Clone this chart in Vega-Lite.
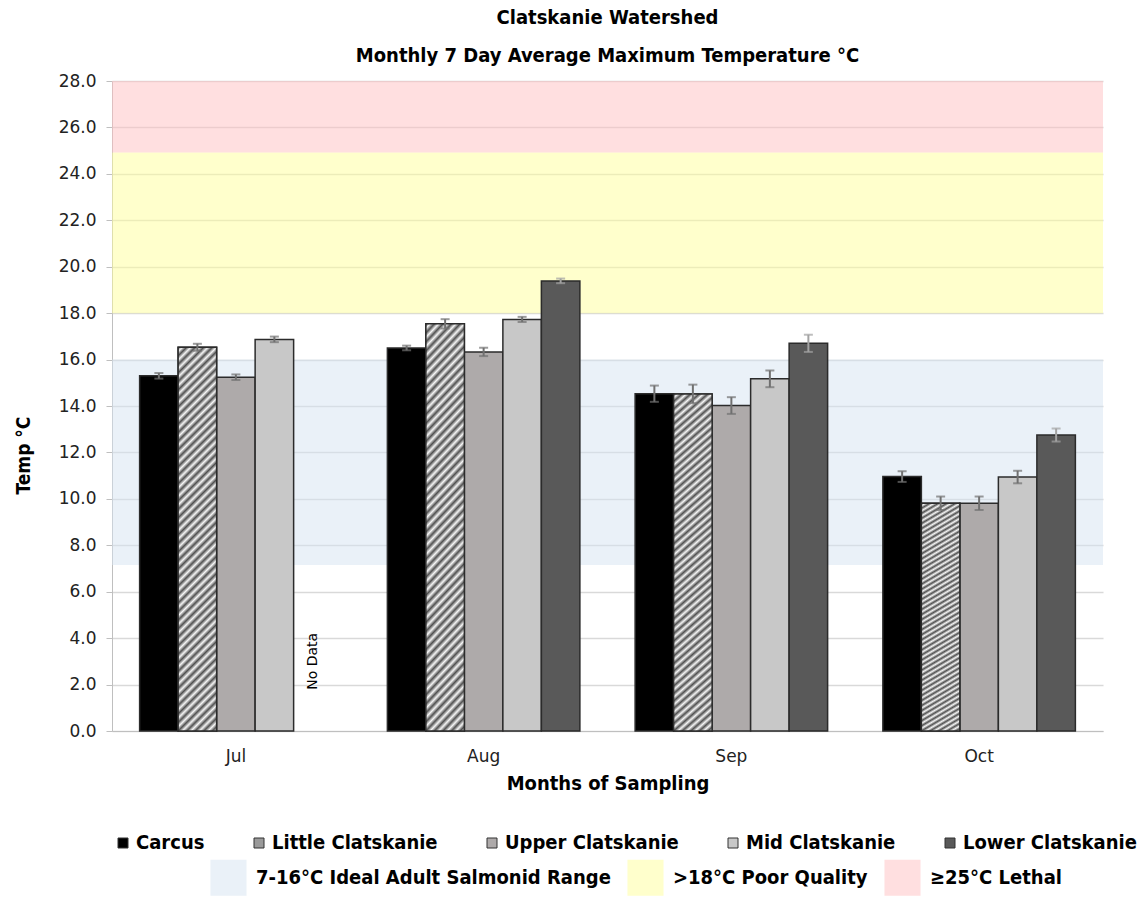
{
  "$schema": "https://vega.github.io/schema/vega-lite/v6.json",
  "width": 991,
  "height": 650,
  "autosize": {"type": "none"},
  "padding": {"left": 112, "top": 81, "right": 45, "bottom": 167},
  "background": "white",
  "title": {
    "text": "Clatskanie Watershed",
    "subtitle": "Monthly 7 Day Average Maximum Temperature °C",
    "frame": "group",
    "anchor": "middle",
    "font": "DejaVu Sans Condensed",
    "fontWeight": "bold",
    "fontSize": 20,
    "color": "black",
    "subtitleFont": "DejaVu Sans Condensed",
    "subtitleFontWeight": "bold",
    "subtitleFontSize": 20,
    "subtitleColor": "black",
    "subtitlePadding": 18,
    "offset": 6
  },
  "config": {"view": {"stroke": null}, "font": "DejaVu Sans"},
  "datasets": {
    "temps": [
      {"month": "Jul", "series": "Carcus", "value": 15.30, "lo": 15.18, "hi": 15.42},
      {"month": "Jul", "series": "Little Clatskanie", "value": 16.53, "lo": 16.38, "hi": 16.68},
      {"month": "Jul", "series": "Upper Clatskanie", "value": 15.24, "lo": 15.12, "hi": 15.36},
      {"month": "Jul", "series": "Mid Clatskanie", "value": 16.87, "lo": 16.75, "hi": 16.99},
      {"month": "Aug", "series": "Carcus", "value": 16.50, "lo": 16.40, "hi": 16.60},
      {"month": "Aug", "series": "Little Clatskanie", "value": 17.54, "lo": 17.34, "hi": 17.74},
      {"month": "Aug", "series": "Upper Clatskanie", "value": 16.33, "lo": 16.15, "hi": 16.51},
      {"month": "Aug", "series": "Mid Clatskanie", "value": 17.73, "lo": 17.62, "hi": 17.84},
      {"month": "Aug", "series": "Lower Clatskanie", "value": 19.39, "lo": 19.29, "hi": 19.49},
      {"month": "Sep", "series": "Carcus", "value": 14.53, "lo": 14.18, "hi": 14.88},
      {"month": "Sep", "series": "Little Clatskanie", "value": 14.52, "lo": 14.12, "hi": 14.92},
      {"month": "Sep", "series": "Upper Clatskanie", "value": 14.02, "lo": 13.66, "hi": 14.38},
      {"month": "Sep", "series": "Mid Clatskanie", "value": 15.17, "lo": 14.81, "hi": 15.53},
      {"month": "Sep", "series": "Lower Clatskanie", "value": 16.70, "lo": 16.33, "hi": 17.07},
      {"month": "Oct", "series": "Carcus", "value": 10.96, "lo": 10.73, "hi": 11.19},
      {"month": "Oct", "series": "Little Clatskanie", "value": 9.81, "lo": 9.52, "hi": 10.10},
      {"month": "Oct", "series": "Upper Clatskanie", "value": 9.81, "lo": 9.52, "hi": 10.10},
      {"month": "Oct", "series": "Mid Clatskanie", "value": 10.94, "lo": 10.67, "hi": 11.21},
      {"month": "Oct", "series": "Lower Clatskanie", "value": 12.75, "lo": 12.47, "hi": 13.03}
    ],
    "bands": [
      {"band": "7-16°C Ideal Adult Salmonid Range", "lo": 7.15, "hi": 16.0},
      {"band": ">18°C Poor Quality", "lo": 18.0, "hi": 24.92},
      {"band": "≥25°C Lethal", "lo": 24.92, "hi": 28.0}
    ],
    "notes": [
      {"month": "Jul", "series": "Lower Clatskanie", "note": "No Data"}
    ]
  },
  "layer": [
    {
      "data": {"name": "bands"},
      "mark": {"type": "rect", "opacity": 0.5},
      "encoding": {
        "y": {"field": "lo", "type": "quantitative"},
        "y2": {"field": "hi"},
        "fill": {
          "field": "band",
          "type": "nominal",
          "scale": {
            "domain": ["7-16°C Ideal Adult Salmonid Range", ">18°C Poor Quality", "≥25°C Lethal"],
            "range": ["#d5e3f1", "#ffff99", "#ffbfc1"]
          },
          "legend": {
            "orient": "none",
            "legendX": 98,
            "legendY": 778,
            "direction": "horizontal",
            "columns": 3,
            "title": null,
            "padding": 0,
            "symbolType": "square",
            "symbolSize": 1300,
            "symbolStrokeWidth": 0,
            "labelFont": "DejaVu Sans Condensed",
            "labelFontWeight": "bold",
            "labelFontSize": 20,
            "labelColor": "black",
            "labelOffset": 9,
            "labelLimit": 500,
            "columnPadding": 16
          }
        }
      }
    },
    {
      "data": {"name": "temps"},
      "mark": {"type": "bar", "stroke": "#2b2b2b", "strokeWidth": 1.5},
      "encoding": {
        "x": {
          "field": "month",
          "type": "nominal",
          "scale": {"domain": ["Jul", "Aug", "Sep", "Oct"], "paddingInner": 0.223, "paddingOuter": 0.1115},
          "axis": {
            "title": "Months of Sampling",
            "labelAngle": 0,
            "ticks": false,
            "domainColor": "#bfbfbf",
            "labelFontSize": 17,
            "labelColor": "#222222",
            "labelPadding": 17,
            "titleFont": "DejaVu Sans Condensed",
            "titleFontWeight": "bold",
            "titleFontSize": 20,
            "titleColor": "black",
            "titlePadding": 9
          }
        },
        "xOffset": {
          "field": "series",
          "type": "nominal",
          "scale": {
            "domain": ["Carcus", "Little Clatskanie", "Upper Clatskanie", "Mid Clatskanie", "Lower Clatskanie"],
            "paddingInner": 0,
            "paddingOuter": 0
          }
        },
        "y": {
          "field": "value",
          "type": "quantitative",
          "scale": {"domain": [0, 28], "nice": false},
          "axis": {
            "title": "Temp °C",
            "values": [0, 2, 4, 6, 8, 10, 12, 14, 16, 18, 20, 22, 24, 26, 28],
            "format": ".1f",
            "gridColor": "#d9d9d9",
            "gridWidth": 1.5,
            "domainColor": "#bfbfbf",
            "tickColor": "#bfbfbf",
            "tickSize": 6,
            "labelFontSize": 17,
            "labelColor": "#222222",
            "labelPadding": 10,
            "titleFont": "DejaVu Sans Condensed",
            "titleFontWeight": "bold",
            "titleFontSize": 19,
            "titleColor": "black",
            "titlePadding": 25,
            "titleY": 374
          }
        },
        "color": {
          "field": "series",
          "type": "nominal",
          "scale": {
            "domain": ["Carcus", "Little Clatskanie", "Upper Clatskanie", "Mid Clatskanie", "Lower Clatskanie"],
            "range": ["#000000", "#9a9a9a", "#aeaaaa", "#c8c8c8", "#595959"]
          },
          "legend": {
            "orient": "none",
            "legendX": 1,
            "legendY": 752,
            "direction": "horizontal",
            "columns": 5,
            "title": null,
            "padding": 0,
            "symbolType": "square",
            "symbolSize": 100,
            "symbolStrokeColor": "#333333",
            "symbolStrokeWidth": 1,
            "labelFont": "DejaVu Sans Condensed",
            "labelFontWeight": "bold",
            "labelFontSize": 20,
            "labelColor": "black",
            "labelOffset": 3,
            "labelLimit": 500,
            "columnPadding": 44
          }
        }
      }
    },
    {
      "data": {"name": "temps"},
      "transform": [{"filter": "datum.series === 'Little Clatskanie'"}],
      "mark": {
        "type": "bar",
        "stroke": "#2b2b2b",
        "strokeWidth": 1.5,
        "fill": {
          "gradient": "linear",
          "x1": 0, "y1": 0, "x2": 0.11, "y2": 1.1,
          "stops": [
            {"offset": 0.00, "color": "#505050"}, {"offset": 0.01, "color": "#f6f6f6"},
            {"offset": 0.02, "color": "#505050"}, {"offset": 0.03, "color": "#f6f6f6"},
            {"offset": 0.04, "color": "#505050"}, {"offset": 0.05, "color": "#f6f6f6"},
            {"offset": 0.06, "color": "#505050"}, {"offset": 0.07, "color": "#f6f6f6"},
            {"offset": 0.08, "color": "#505050"}, {"offset": 0.09, "color": "#f6f6f6"},
            {"offset": 0.10, "color": "#505050"}, {"offset": 0.11, "color": "#f6f6f6"},
            {"offset": 0.12, "color": "#505050"}, {"offset": 0.13, "color": "#f6f6f6"},
            {"offset": 0.14, "color": "#505050"}, {"offset": 0.15, "color": "#f6f6f6"},
            {"offset": 0.16, "color": "#505050"}, {"offset": 0.17, "color": "#f6f6f6"},
            {"offset": 0.18, "color": "#505050"}, {"offset": 0.19, "color": "#f6f6f6"},
            {"offset": 0.20, "color": "#505050"}, {"offset": 0.21, "color": "#f6f6f6"},
            {"offset": 0.22, "color": "#505050"}, {"offset": 0.23, "color": "#f6f6f6"},
            {"offset": 0.24, "color": "#505050"}, {"offset": 0.25, "color": "#f6f6f6"},
            {"offset": 0.26, "color": "#505050"}, {"offset": 0.27, "color": "#f6f6f6"},
            {"offset": 0.28, "color": "#505050"}, {"offset": 0.29, "color": "#f6f6f6"},
            {"offset": 0.30, "color": "#505050"}, {"offset": 0.31, "color": "#f6f6f6"},
            {"offset": 0.32, "color": "#505050"}, {"offset": 0.33, "color": "#f6f6f6"},
            {"offset": 0.34, "color": "#505050"}, {"offset": 0.35, "color": "#f6f6f6"},
            {"offset": 0.36, "color": "#505050"}, {"offset": 0.37, "color": "#f6f6f6"},
            {"offset": 0.38, "color": "#505050"}, {"offset": 0.39, "color": "#f6f6f6"},
            {"offset": 0.40, "color": "#505050"}, {"offset": 0.41, "color": "#f6f6f6"},
            {"offset": 0.42, "color": "#505050"}, {"offset": 0.43, "color": "#f6f6f6"},
            {"offset": 0.44, "color": "#505050"}, {"offset": 0.45, "color": "#f6f6f6"},
            {"offset": 0.46, "color": "#505050"}, {"offset": 0.47, "color": "#f6f6f6"},
            {"offset": 0.48, "color": "#505050"}, {"offset": 0.49, "color": "#f6f6f6"},
            {"offset": 0.50, "color": "#505050"}, {"offset": 0.51, "color": "#f6f6f6"},
            {"offset": 0.52, "color": "#505050"}, {"offset": 0.53, "color": "#f6f6f6"},
            {"offset": 0.54, "color": "#505050"}, {"offset": 0.55, "color": "#f6f6f6"},
            {"offset": 0.56, "color": "#505050"}, {"offset": 0.57, "color": "#f6f6f6"},
            {"offset": 0.58, "color": "#505050"}, {"offset": 0.59, "color": "#f6f6f6"},
            {"offset": 0.60, "color": "#505050"}, {"offset": 0.61, "color": "#f6f6f6"},
            {"offset": 0.62, "color": "#505050"}, {"offset": 0.63, "color": "#f6f6f6"},
            {"offset": 0.64, "color": "#505050"}, {"offset": 0.65, "color": "#f6f6f6"},
            {"offset": 0.66, "color": "#505050"}, {"offset": 0.67, "color": "#f6f6f6"},
            {"offset": 0.68, "color": "#505050"}, {"offset": 0.69, "color": "#f6f6f6"},
            {"offset": 0.70, "color": "#505050"}, {"offset": 0.71, "color": "#f6f6f6"},
            {"offset": 0.72, "color": "#505050"}, {"offset": 0.73, "color": "#f6f6f6"},
            {"offset": 0.74, "color": "#505050"}, {"offset": 0.75, "color": "#f6f6f6"},
            {"offset": 0.76, "color": "#505050"}, {"offset": 0.77, "color": "#f6f6f6"},
            {"offset": 0.78, "color": "#505050"}, {"offset": 0.79, "color": "#f6f6f6"},
            {"offset": 0.80, "color": "#505050"}, {"offset": 0.81, "color": "#f6f6f6"},
            {"offset": 0.82, "color": "#505050"}, {"offset": 0.83, "color": "#f6f6f6"},
            {"offset": 0.84, "color": "#505050"}, {"offset": 0.85, "color": "#f6f6f6"},
            {"offset": 0.86, "color": "#505050"}, {"offset": 0.87, "color": "#f6f6f6"},
            {"offset": 0.88, "color": "#505050"}, {"offset": 0.89, "color": "#f6f6f6"},
            {"offset": 0.90, "color": "#505050"}, {"offset": 0.91, "color": "#f6f6f6"},
            {"offset": 0.92, "color": "#505050"}, {"offset": 0.93, "color": "#f6f6f6"},
            {"offset": 0.94, "color": "#505050"}, {"offset": 0.95, "color": "#f6f6f6"},
            {"offset": 0.96, "color": "#505050"}, {"offset": 0.97, "color": "#f6f6f6"},
            {"offset": 0.98, "color": "#505050"}, {"offset": 0.99, "color": "#f6f6f6"},
            {"offset": 1.00, "color": "#505050"}
          ]
        }
      },
      "encoding": {
        "x": {"field": "month", "type": "nominal"},
        "xOffset": {"field": "series", "type": "nominal"},
        "y": {"field": "value", "type": "quantitative"}
      }
    },
    {
      "data": {"name": "temps"},
      "mark": {"type": "rule", "strokeWidth": 2},
      "encoding": {
        "x": {"field": "month", "type": "nominal"},
        "xOffset": {"field": "series", "type": "nominal"},
        "y": {"field": "lo", "type": "quantitative"},
        "y2": {"field": "hi"},
        "stroke": {
          "condition": {"test": "datum.series === 'Lower Clatskanie'", "value": "#a3a3a3"},
          "value": "#707070"
        }
      }
    },
    {
      "data": {"name": "temps"},
      "mark": {"type": "tick", "thickness": 2, "size": 9},
      "encoding": {
        "x": {"field": "month", "type": "nominal"},
        "xOffset": {"field": "series", "type": "nominal"},
        "y": {"field": "lo", "type": "quantitative"},
        "color": {
          "condition": {"test": "datum.series === 'Lower Clatskanie'", "value": "#a3a3a3"},
          "value": "#707070"
        }
      }
    },
    {
      "data": {"name": "temps"},
      "mark": {"type": "tick", "thickness": 2, "size": 9},
      "encoding": {
        "x": {"field": "month", "type": "nominal"},
        "xOffset": {"field": "series", "type": "nominal"},
        "y": {"field": "hi", "type": "quantitative"},
        "color": {
          "condition": {"test": "datum.series === 'Lower Clatskanie'", "value": "#a3a3a3"},
          "value": "#707070"
        }
      }
    },
    {
      "data": {"name": "notes"},
      "mark": {"type": "text", "angle": 270, "fontSize": 14, "color": "black", "font": "DejaVu Sans"},
      "encoding": {
        "x": {"field": "month", "type": "nominal"},
        "xOffset": {"field": "series", "type": "nominal"},
        "y": {"datum": 3},
        "text": {"field": "note"}
      }
    }
  ]
}
